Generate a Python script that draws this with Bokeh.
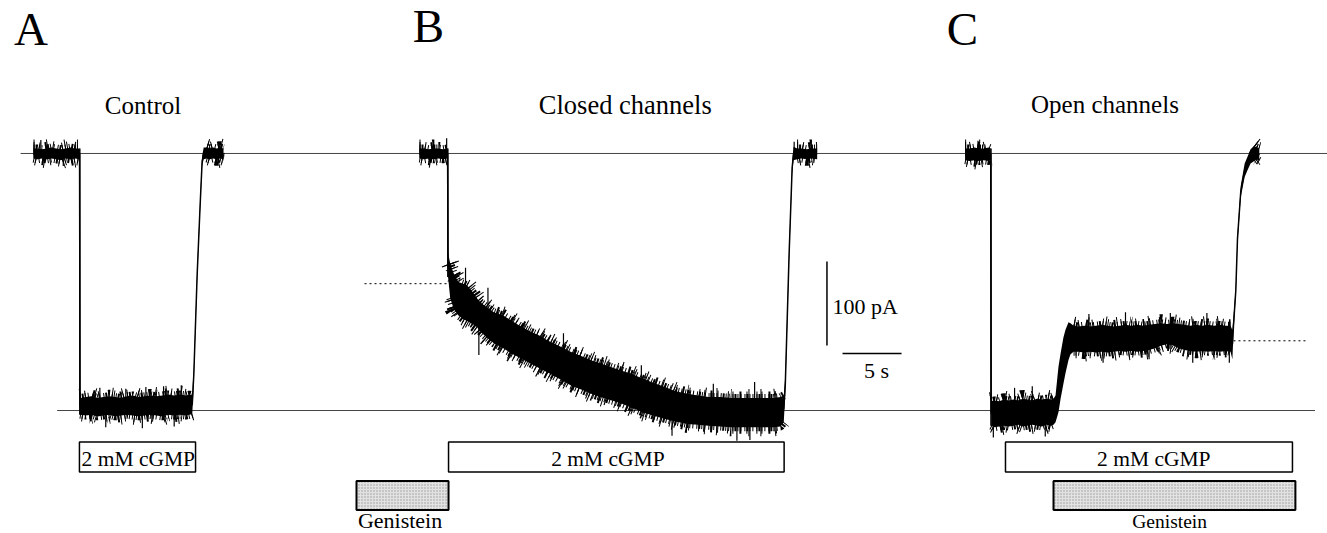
from bokeh.plotting import figure
from bokeh.models import Range1d, ColumnDataSource
from bokeh.core.properties import value
from bokeh.embed import file_html
from bokeh.resources import INLINE

# ---------------------------------------------------------------
# Current traces (pA, inward negative), time in s from cGMP onset.
# Each trace: solid core of the noise band (upper / lower edge)
# plus the larger single noise excursions (time, peak value).
# ---------------------------------------------------------------

# A: control
a_t = [-3.92, -3.6, -3.2, -2.8, -2.4, -2.0, -1.6, -1.2, -0.8, -0.4, -0.02,
       0.02, 0.5, 1.0, 1.5, 2.0, 2.5, 3.0, 3.5, 4.0, 4.5, 5.0, 5.5, 6.0, 6.5,
       7.0, 7.5, 8.0, 8.5, 9.0, 9.3, 9.53,
       9.6, 9.66, 9.95, 10.2, 10.37, 10.5,
       10.75, 11.0, 11.3, 11.6, 11.9, 12.18]
a_hi = [6, 6, 5, 6, 7, 6, 5, 6, 7, 6, 6,
        -291, -290, -289, -291, -290, -289, -290, -291, -289, -288, -290, -289,
        -288, -289, -288, -287, -288, -287, -288, -287, -288,
        -268, -258, -137, -55, -3, 7,
        7, 6, 7, 6, 7, 6]
a_lo = [-6, -7, -6, -7, -6, -7, -8, -6, -7, -6, -7,
        -311, -312, -311, -313, -312, -311, -313, -312, -311, -312, -313, -312,
        -311, -312, -313, -311, -312, -311, -312, -311, -310,
        -292, -270, -149, -67, -15, -7,
        -6, -7, -6, -7, -6, -7]
a_noisy = [(-3.92, -0.02), (0.02, 9.53), (10.75, 12.18)]
a_spike_t = [-3.3, -1.4, 1.7, 3.9, 5.6, 7.1, 8.6, 2.2, 5.3, 8.0]
a_spike_v = [16, -15, -279, -280, -278, -277, -276, -326, -327, -325]

# B: genistein applied to closed channels
b_t = [-2.4, -2.0, -1.6, -1.2, -0.8, -0.4, -0.02,
       0.02, 0.2, 0.5, 0.9, 1.3, 1.7, 2.1, 2.5, 2.63, 2.75,
       3.3, 3.9, 4.7, 5.4, 6.2, 7.0, 7.8, 8.5, 9.4, 10.4,
       11.3, 12.3, 13.4, 14.6, 15.5, 16.5, 17.4, 18.4, 19.3, 20.3,
       21.2, 22.1, 23.1, 24.0, 25.0, 25.9, 26.8, 27.6, 28.2, 28.47,
       28.6, 28.92, 29.18, 29.3,
       29.6, 30.0, 30.4, 30.8, 31.3]
b_hi = [6, 6, 5, 6, 6, 5, 6,
        -118, -131, -143, -153, -155, -158, -165, -173, -175, -177,
        -183, -189, -193, -199, -206, -212, -217, -223, -229, -236,
        -241, -247, -252, -258, -262, -268, -273, -278, -283, -286,
        -288, -290, -290, -291, -291, -291, -291, -291, -290, -288,
        -265, -115, -10, 8,
        6, 6, 5, 6, 6]
b_lo = [-6, -7, -6, -7, -6, -7, -6,
        -147, -172, -185, -193, -197, -200, -203, -207, -210, -212,
        -219, -226, -232, -238, -244, -250, -256, -261, -268, -276,
        -281, -287, -292, -297, -302, -308, -312, -316, -319, -322,
        -323, -324, -325, -326, -326, -326, -326, -326, -325, -320,
        -285, -127, -24, -8,
        -7, -6, -7, -6, -7]
b_noisy = [(-2.4, -0.02), (0.2, 28.47), (29.6, 31.3)]
b_spike_t = [-0.1, 1.5, 2.63, 3.4, 9.8, 16.4, 22.5, 26.0, 19.0, 24.5, 25.6, 29.35]
b_spike_v = [18, -136, -240, -160, -214, -252, -274, -272, -336, -342, -341, 14]

# C: genistein applied to open channels
c_t = [-2.19, -1.8, -1.4, -1.0, -0.6, -0.2, -0.02,
       0.02, 0.3, 0.7, 1.1, 1.5, 1.9, 2.3, 2.7, 3.1, 3.5, 3.9, 4.3, 4.7, 5.1, 5.3,
       5.47, 5.72, 5.9, 6.14, 6.31, 6.57, 6.74, 7.0,
       7.4, 7.9, 8.4, 8.9, 9.4, 9.9, 10.4, 10.9, 11.4, 11.9, 12.4, 12.9, 13.4,
       13.9, 14.4, 14.9, 15.4, 15.9, 16.4, 16.9, 17.4, 17.9, 18.4, 18.9, 19.4,
       19.9, 20.3,
       20.46, 20.55, 20.75, 20.89, 21.17, 21.5, 21.74, 22.0, 22.31,
       22.5, 22.74]
c_hi = [6, 6, 7, 6, 6, 7, 6,
        -295, -294, -295, -293, -294, -293, -294, -292, -293, -294, -292, -293,
        -292, -293, -292,
        -288, -254, -238, -219, -210, -201, -202, -205,
        -206, -205, -206, -205, -204, -205, -206, -205, -204, -205, -204, -205,
        -204, -203, -202, -203, -202, -203, -204, -205, -204, -205, -204, -205,
        -204, -205, -205,
        -210, -195, -158, -97, -38, -12, -4, 5, 9,
        7, 6]
c_lo = [-8, -9, -8, -9, -8, -9, -8,
        -324, -326, -325, -324, -325, -324, -323, -325, -324, -323, -324, -325,
        -323, -324, -323,
        -320, -308, -292, -274, -262, -246, -239, -236,
        -236, -237, -236, -237, -236, -237, -236, -235, -236, -235, -236, -235,
        -234, -232, -229, -227, -228, -232, -234, -235, -236, -235, -236, -235,
        -236, -235, -236,
        -245, -215, -168, -107, -52, -28, -20, -12, -9,
        -7, -9]
c_noisy = [(-2.19, -0.02), (0.02, 5.3), (7.0, 20.3), (22.31, 22.74)]
c_spike_t = [-1.1, 2.0, 3.5, 0.2, 4.6, 8.3, 11.4, 15.2, 18.3, 9.5, 13.4, 17.1, 20.2]
c_spike_v = [15, -279, -277, -338, -337, -191, -189, -190, -190, -249, -245, -249, -249]

# reference current levels (pA)
baseline_pa = 0
max_current_pa = -306
b_initial_pa = -155      # current right after cGMP onset in B
c_genistein_pa = -223    # steady current with genistein in C

# solution application windows (s from cGMP onset of each panel)
cgmp_on = {"A": (-0.03, 9.81), "B": (0.06, 28.5), "C": (1.23, 25.55)}
genistein_on = {"B": (-7.74, 0.06), "C": (5.3, 25.8)}

# scale bars
scale_pa = 100
scale_s = 5

# ---------------------------------------------------------------
# layout (s / pA in the shared frame)
# ---------------------------------------------------------------
onset = {"A": 6.72, "B": 37.91, "C": 83.94}
X0, X1 = 0.0, 112.46
Y0, Y1 = -452.4, 182.1
PX_PER_PA = 533 / (Y1 - Y0)
CGMP_ROW = (-379.2, -343.5)
GEN_ROW = (-424.4, -389.9)
SERIF = value("Liberation Serif")

# dashed thick strokes along the band edges give the recording's
# fine noise fringe: (stroke width px, dash pattern)
FRINGE = [(8, "1 1 2 1 1 2 1 3"), (13, "1 4 1 6 2 5 1 9"), (18, "1 13 1 17 1 11")]

p = figure(width=1327, height=533, x_range=Range1d(X0, X1), y_range=Range1d(Y0, Y1),
           toolbar_location=None, output_backend="svg", min_border=0,
           x_axis_location=None, y_axis_location=None, outline_line_color=None,
           background_fill_color="white", border_fill_color="white")
p.xgrid.visible = False
p.ygrid.visible = False

# zero-current and maximal-current reference lines
p.segment(x0=[1.7, 4.8], x1=[X1, 111.4], y0=[baseline_pa, max_current_pa],
          y1=[baseline_pa, max_current_pa], line_color="#444444", line_width=1)

# dotted level markers
p.segment(x0=[onset["B"] - 7.06, onset["C"] + 20.55],
          x1=[onset["B"] - 0.11, onset["C"] + 26.9],
          y0=[b_initial_pa, c_genistein_pa], y1=[b_initial_pa, c_genistein_pa],
          line_color="black", line_width=1, line_dash="2 3")

# traces
traces = (("A", a_t, a_hi, a_lo, a_noisy, a_spike_t, a_spike_v),
          ("B", b_t, b_hi, b_lo, b_noisy, b_spike_t, b_spike_v),
          ("C", c_t, c_hi, c_lo, c_noisy, c_spike_t, c_spike_v))
for key, t, hi, lo, noisy, st, sv in traces:
    off = onset[key]
    x = [v + off for v in t]
    mid = [(h + l) / 2 for h, l in zip(hi, lo)]
    p.varea(x=x, y1=lo, y2=hi, fill_color="black")
    p.line(x=x, y=mid, line_color="black", line_width=1.5)
    # fast solution exchange at cGMP onset
    k = t.index(0.02)
    p.segment(x0=[off], x1=[off], y0=[hi[k - 1]], y1=[lo[k]],
              line_color="black", line_width=1.5)
    # noise fringe on the stationary / slowly changing stretches
    for t0, t1 in noisy:
        idx = [i for i in range(len(t)) if t0 <= t[i] <= t1]
        xs = [x[i] for i in idx]
        for w, dash in FRINGE:
            p.line(x=xs, y=[hi[i] for i in idx], line_color="black", line_width=w,
                   line_dash=dash, line_cap="butt")
            p.line(x=xs, y=[lo[i] for i in idx], line_color="black", line_width=w,
                   line_dash=dash, line_dash_offset=3, line_cap="butt")
    # larger single excursions, rooted in the band at the nearest sample
    roots = [mid[min(range(len(t)), key=lambda i: abs(t[i] - s))] for s in st]
    p.segment(x0=[s + off for s in st], x1=[s + off for s in st], y0=roots, y1=sv,
              line_color="black", line_width=1.2)

# cGMP application bars
cg = ColumnDataSource(dict(
    left=[onset[k] + cgmp_on[k][0] for k in "ABC"],
    right=[onset[k] + cgmp_on[k][1] for k in "ABC"],
))
p.quad(left="left", right="right", bottom=CGMP_ROW[0], top=CGMP_ROW[1], source=cg,
       fill_color="white", line_color="black", line_width=1.5)

# genistein application bars
gs = ColumnDataSource(dict(
    left=[onset[k] + genistein_on[k][0] for k in "BC"],
    right=[onset[k] + genistein_on[k][1] for k in "BC"],
))
p.quad(left="left", right="right", bottom=GEN_ROW[0], top=GEN_ROW[1], source=gs,
       fill_color="#e2e2e2", hatch_pattern=".", hatch_scale=3, hatch_color="#999999",
       hatch_weight=1, line_color="black", line_width=2)

# scale bars
sx, sy = 70.04, -128.6
p.segment(x0=[sx], x1=[sx], y0=[sy], y1=[sy - scale_pa], line_color="black", line_width=1.5)
hx, hy = 71.36, -238.1
p.segment(x0=[hx], x1=[hx + scale_s], y0=[hy], y1=[hy], line_color="black", line_width=1.5)


def label(x, y, text, size, align="center"):
    # y is the baseline; lift by the renderer's baseline offset (~0.36 em)
    lift = 0.36 * size / PX_PER_PA
    p.text(x=[x], y=[y + lift], text=[text], text_font=SERIF, text_font_size=f"{size}px",
           text_align=align, text_baseline="alphabetic", text_color="black")


# panel letters
label(1.15, 128.0, "A", 47, "left")
label(34.93, 132.0, "B", 47, "left")
label(80.2, 127.5, "C", 47, "left")

# panel titles
label(12.08, 46.4, "Control", 25)
label(52.95, 46.4, "Closed channels", 26.5)
label(93.6, 48.0, "Open channels", 25)

# bar labels
for x in (11.68, 51.48, 97.74):
    label(x, -373.0, "2 mM cGMP", 21.5)
label(33.86, -446.0, "Genistein", 22)
label(99.08, -446.0, "Genistein", 19.5)

# scale bar labels
label(70.5, -191.7, "100 pA", 22, "left")
label(74.24, -267.9, "5 s", 22)

open("out.html", "w").write(file_html(p, INLINE))
